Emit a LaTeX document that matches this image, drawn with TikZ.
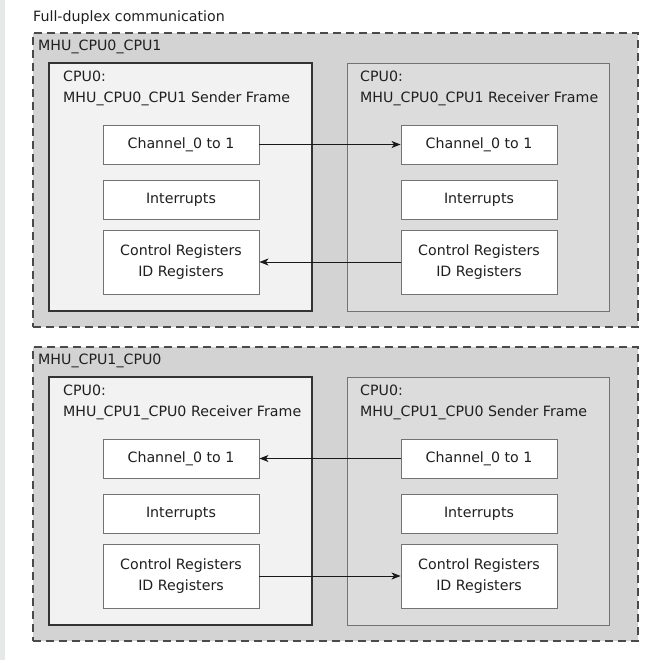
\documentclass[tikz,border=0pt]{standalone}
\usepackage{fontspec}
\setmainfont{DejaVu Sans}
\usetikzlibrary{arrows.meta,positioning}

\definecolor{outerfill}{HTML}{D3D3D3}
\definecolor{lightframe}{HTML}{F2F2F2}
\definecolor{darkframe}{HTML}{DCDCDC}
\definecolor{dashcol}{HTML}{4A4A4A}
\definecolor{strip}{HTML}{E7E8EA}

\tikzset{
  every node/.style={font=\fontsize{14.2bp}{20.5bp}\selectfont, text=black!88},
  mhu/.style={draw=dashcol, line width=1.2bp, dash pattern=on 8bp off 5bp,
    fill=outerfill, rectangle, minimum width=605bp, minimum height=294bp, inner sep=0},
  activeframe/.style={draw=black!80, line width=1.4bp, fill=lightframe,
    rectangle, minimum width=263bp, minimum height=248bp, inner sep=0},
  passiveframe/.style={draw=black!55, line width=0.9bp, fill=darkframe,
    rectangle, minimum width=262bp, minimum height=248bp, inner sep=0},
  regbox/.style={draw=black!55, line width=0.9bp, fill=white, rectangle,
    minimum width=156bp, minimum height=39bp, inner sep=0, align=center},
  tallbox/.style={regbox, minimum height=64bp},
  caption/.style={anchor=north west, inner sep=0, align=left},
  link/.style={draw=black!90, line width=1bp, -{Stealth[length=9bp,width=7bp,inset=2.5bp]}}
}

\begin{document}
\begin{tikzpicture}[x=1bp, y=-1bp]
  % canvas and the grey strip along the left edge
  \fill[white] (0,0) rectangle (650,663);
  \useasboundingbox (0,0) rectangle (650,663);
  \fill[strip] (0,0) rectangle (5,660);

  \node[caption] (title) at (33,11) {Full-duplex communication};

  % ---------- MHU_CPU0_CPU1 ----------
  \node[mhu] (mhuA) at (335.5,180) {};
  \node[caption] (mhuAlbl) at (38,40) {MHU\_CPU0\_CPU1};

  \node[activeframe] (sendA) at (180.5,187) {};
  \node[caption] (sendAlbl) at (63,71) {CPU0:\\MHU\_CPU0\_CPU1 Sender Frame};
  \node[passiveframe] (recvA) at (478,187) {};
  \node[caption] (recvAlbl) at (360,71) {CPU0:\\MHU\_CPU0\_CPU1 Receiver Frame};

  \node[regbox] (chA1) at (181,144.5) {Channel\_0 to 1};
  \node[regbox] (irA1) at (181,199.5) {Interrupts};
  \node[tallbox] (crA1) at (181,262) {Control Registers\\ID Registers};

  \node[regbox] (chA2) at (479,144.5) {Channel\_0 to 1};
  \node[regbox] (irA2) at (479,199.5) {Interrupts};
  \node[tallbox] (crA2) at (479,262) {Control Registers\\ID Registers};

  \draw[link] (chA1.east) -- (chA2.west);
  \draw[link] (crA2.west) -- (crA1.east);

  % ---------- MHU_CPU1_CPU0 ----------
  \node[mhu] (mhuB) at (335.5,494) {};
  \node[caption] (mhuBlbl) at (38,354) {MHU\_CPU1\_CPU0};

  \node[activeframe] (recvB) at (180.5,501) {};
  \node[caption] (recvBlbl) at (63,385) {CPU0:\\MHU\_CPU1\_CPU0 Receiver Frame};
  \node[passiveframe] (sendB) at (478,501) {};
  \node[caption] (sendBlbl) at (360,385) {CPU0:\\MHU\_CPU1\_CPU0 Sender Frame};

  \node[regbox] (chB1) at (181,458.5) {Channel\_0 to 1};
  \node[regbox] (irB1) at (181,513.5) {Interrupts};
  \node[tallbox] (crB1) at (181,576) {Control Registers\\ID Registers};

  \node[regbox] (chB2) at (479,458.5) {Channel\_0 to 1};
  \node[regbox] (irB2) at (479,513.5) {Interrupts};
  \node[tallbox] (crB2) at (479,576) {Control Registers\\ID Registers};

  \draw[link] (chB2.west) -- (chB1.east);
  \draw[link] (crB1.east) -- (crB2.west);
\end{tikzpicture}
\end{document}
